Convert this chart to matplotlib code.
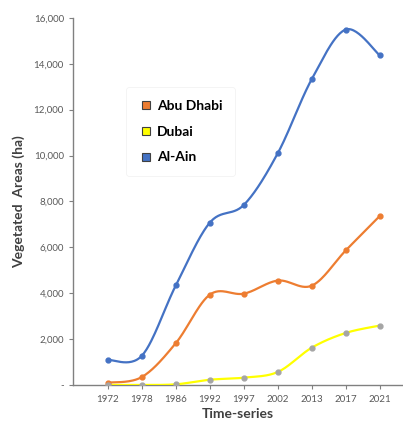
#!/usr/bin/env python3

import numpy as np
import matplotlib.pyplot as plt
from matplotlib.ticker import FuncFormatter

years = ['1972', '1978', '1986', '1992', '1997', '2002', '2013', '2017', '2021']
abu_dhabi = [100, 350, 1830, 3940, 3980, 4550, 4330, 5870, 7370]
dubai = [0, 0, 30, 230, 320, 570, 1630, 2270, 2590]
al_ain = [1090, 1280, 4350, 7080, 7850, 10110, 13340, 15490, 14360]


def smooth(x, y, n=30):
    # krivka jako v Excelu (Catmull-Rom / Bezier)
    x = np.asarray(x, float)
    y = np.asarray(y, float)
    px = np.concatenate([[x[0]], x, [x[-1]]])
    py = np.concatenate([[y[0]], y, [y[-1]]])
    t = np.linspace(0, 1, n)
    xs, ys = [], []
    for i in range(1, len(px) - 2):
        p0 = np.array([px[i], py[i]])
        p3 = np.array([px[i + 1], py[i + 1]])
        p1 = p0 + (p3 - np.array([px[i - 1], py[i - 1]])) / 6
        p2 = p3 - (np.array([px[i + 2], py[i + 2]]) - p0) / 6
        b = ((1 - t)**3)[:, None] * p0 + (3 * (1 - t)**2 * t)[:, None] * p1 + \
            (3 * (1 - t) * t**2)[:, None] * p2 + (t**3)[:, None] * p3
        xs.append(b[:, 0])
        ys.append(b[:, 1])
    return np.concatenate(xs), np.concatenate(ys)


plt.rcParams['font.family'] = ['Lato', 'DejaVu Sans']

fig = plt.figure(figsize=(4.03, 4.24), dpi=100)
ax = fig.add_axes([0.181, 0.092, 0.819, 0.866])

x = np.arange(len(years))
series = [('Abu Dhabi', abu_dhabi, '#ED7D31', '#ED7D31'),
          ('Dubai', dubai, '#FFFF00', '#A5A5A5'),
          ('Al-Ain', al_ain, '#4472C4', '#4472C4')]

# poradi kresleni: modra, oranzova, zluta navrchu
for name, vals, col, mcol in [series[2], series[0], series[1]]:
    sx, sy = smooth(x, vals)
    ax.plot(sx, sy, color=col, lw=1.6, zorder=3)
    ax.plot(x, vals, 'o', color=mcol, ms=3.5, zorder=4)

# legenda
handles = []
for name, vals, col, mcol in series:
    h, = ax.plot([], [], 's', color=col, mec='#404040', mew=0.8, ms=6,
                 label=name)
    handles.append(h)
leg = ax.legend(handles=handles, loc='upper left',
                bbox_to_anchor=(0.14, 0.83), frameon=True,
                prop={'weight': 'bold', 'size': 10}, labelspacing=1.0,
                handletextpad=0.3, handlelength=1.0, borderpad=0.9)
leg.get_frame().set_edgecolor('#f0f0f0')
leg.get_frame().set_linewidth(0.6)

ax.set_xlim(-1.03, 8.68)
ax.set_ylim(0, 16000)
ax.set_xticks(x)
ax.set_xticklabels(years)
ax.set_yticks(np.arange(0, 16001, 2000))
ax.yaxis.set_major_formatter(FuncFormatter(
    lambda v, p: '-' if v == 0 else '{:,.0f}'.format(v)))

for s in ['top', 'right']:
    ax.spines[s].set_visible(False)
for s in ['left', 'bottom']:
    ax.spines[s].set_color('#808080')
    ax.spines[s].set_linewidth(1.0)

ax.tick_params(axis='both', colors='#808080', labelcolor='#595959',
               labelsize=7, length=3, width=0.8)
ax.tick_params(axis='x', pad=4)

ax.set_ylabel('Vegetated  Areas (ha)', fontsize=10, fontweight='bold',
              color='#404040', labelpad=6)
ax.set_xlabel('Time-series', fontsize=10, fontweight='bold',
              color='#404040', labelpad=3)

fig.savefig('out.png', dpi=100)
